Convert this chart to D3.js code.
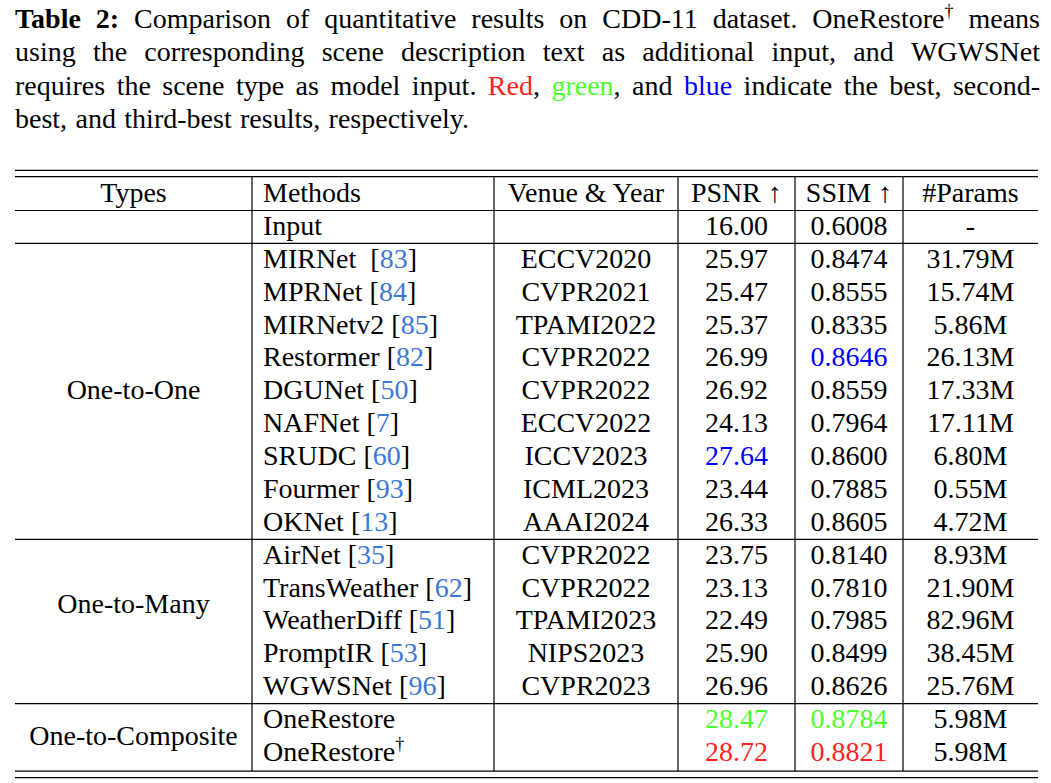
<!DOCTYPE html>
<html>
<head>
<meta charset="utf-8">
<script src="https://cdn.jsdelivr.net/npm/d3@7"></script>
<style>
  body { margin: 0; background: #fff; }
  svg { display: block; }
  text { font-family: "Liberation Serif", "Times New Roman", serif; }
</style>
</head>
<body>
<svg id="chart" width="1051" height="783"></svg>
<script>
// caption, one string per printed line (**bold**, ^sup, {r}/{g}/{u} colour)
const captionLines = [
  "**Table** **2:** Comparison of quantitative results on CDD-11 dataset. OneRestore^† means",
  "using the corresponding scene description text as additional input, and WGWSNet",
  "requires the scene type as model input. {r}Red, {g}green, and {u}blue indicate the best, second-",
  "best, and third-best results, respectively."
];

const headers = ["Types", "Methods", "Venue & Year", "PSNR ↑", "SSIM ↑", "#Params"];
const groups = ["", "One-to-One", "One-to-Many", "One-to-Composite"];
const groupSizes = [1, 9, 5, 2];
const groupLabelSpan = [1, 9, 4, 2];

const methods = ["Input", "MIRNet\u00a0", "MPRNet", "MIRNetv2", "Restormer", "DGUNet", "NAFNet", "SRUDC",
  "Fourmer", "OKNet", "AirNet", "TransWeather", "WeatherDiff", "PromptIR", "WGWSNet", "OneRestore", "OneRestore†"];
const cites = ["", "83", "84", "85", "82", "50", "7", "60", "93", "13", "35", "62", "51", "53", "96", "", ""];
const venues = ["", "ECCV2020", "CVPR2021", "TPAMI2022", "CVPR2022", "CVPR2022", "ECCV2022", "ICCV2023",
  "ICML2023", "AAAI2024", "CVPR2022", "CVPR2022", "TPAMI2023", "NIPS2023", "CVPR2023", "", ""];
const psnr = [16.00, 25.97, 25.47, 25.37, 26.99, 26.92, 24.13, 27.64, 23.44, 26.33, 23.75, 23.13, 22.49, 25.90, 26.96, 28.47, 28.72];
const ssim = [0.6008, 0.8474, 0.8555, 0.8335, 0.8646, 0.8559, 0.7964, 0.8600, 0.7885, 0.8605, 0.8140, 0.7810, 0.7985, 0.8499, 0.8626, 0.8784, 0.8821];
const params = ["-", "31.79M", "15.74M", "5.86M", "26.13M", "17.33M", "17.11M", "6.80M", "0.55M", "4.72M",
  "8.93M", "21.90M", "82.96M", "38.45M", "25.76M", "5.98M", "5.98M"];

const rankColors = ["#ff1f1f", "#4dff2e", "#0000ff"];
const citeColor = "#3d78d8";
const fs = 28;

const svg = d3.select("#chart");

// ---------- caption ----------
const capLeft = 15, capRight = 1040;
const capBase = [27.5, 61, 94.5, 128];
const cap = svg.append("g").attr("font-size", fs).attr("fill", "#000");

function drawWord(t, wd) {
  let bold = false, color = null;
  if (wd.startsWith("**")) { bold = true; wd = wd.replace(/\*\*/g, ""); }
  const m = wd.match(/^\{(r|g|u)\}/);
  if (m) { color = {r: rankColors[0], g: rankColors[1], u: rankColors[2]}[m[1]]; wd = wd.slice(3); }
  if (wd.includes("^")) {
    const [base, sup] = wd.split("^");
    t.append("tspan").text(base);
    t.append("tspan").attr("font-size", 18).attr("dy", -11).text(sup);
    return;
  }
  if (color) {
    const mm = wd.match(/^([A-Za-z]+)(.*)$/);
    t.append("tspan").attr("fill", color).text(mm[1]);
    if (mm[2]) t.append("tspan").text(mm[2]);
    return;
  }
  t.append("tspan").attr("font-weight", bold ? "bold" : null).text(wd);
}

captionLines.forEach((line, li) => {
  const words = line.split(" ");
  const nodes = words.map(wd => {
    const t = cap.append("text").attr("y", capBase[li]);
    drawWord(t, wd);
    return t;
  });
  const widths = nodes.map(n => n.node().getComputedTextLength());
  const total = d3.sum(widths);
  const last = li === captionLines.length - 1;
  const gap = last ? fs * 0.3 : (capRight - capLeft - total) / (words.length - 1);
  let cx = capLeft;
  nodes.forEach((n, i) => { n.attr("x", cx); cx += widths[i] + gap; });
});

// ---------- table ----------
const x = d3.scaleLinear().domain([0, 1, 2, 3, 4, 5, 6]).range([15, 252, 494, 678, 795, 903, 1038]);
const y = d3.scaleBand().domain(d3.range(methods.length + 1)).range([176.6, 176.6 + 32.88 * (methods.length + 1)]);
const mid = c => (x(c) + x(c + 1)) / 2;
const base = r => y(r) + y.bandwidth() / 2 + 9;
const tableTop = y(0), tableBottom = y.range()[1] + 2.6;

const g = svg.append("g").attr("font-size", fs).attr("fill", "#000");

// rules
const hl = [tableTop - 6.3, tableTop, tableBottom, tableBottom + 6.6];
let acc = 1;
hl.push(y(1) + 1);
groupSizes.slice(0, -1).forEach(s => { acc += s; hl.push(y(acc) + 1); });
g.selectAll("line.h").data(hl).join("line").attr("class", "h")
  .attr("x1", x(0)).attr("x2", x(6)).attr("y1", d => d).attr("y2", d => d)
  .attr("stroke", "#000").attr("stroke-width", 1.2);
g.selectAll("line.v").data([1, 2, 3, 4, 5]).join("line").attr("class", "v")
  .attr("x1", d => x(d)).attr("x2", d => x(d)).attr("y1", tableTop).attr("y2", tableBottom)
  .attr("stroke", "#000").attr("stroke-width", 1.2);

// header
g.selectAll("text.hd").data(headers).join("text").attr("class", "hd")
  .attr("x", (d, i) => i === 1 ? x(1) + 11 : mid(i))
  .attr("text-anchor", (d, i) => i === 1 ? "start" : "middle")
  .attr("y", base(0)).text(d => d);

// group labels
let start = 1;
groups.forEach((name, i) => {
  const c = y(start) + groupLabelSpan[i] * y.bandwidth() / 2 + 9;
  g.append("text").attr("x", mid(0)).attr("y", c).attr("text-anchor", "middle").text(name);
  start += groupSizes[i];
});

// ranks among methods (input row excluded)
function rankOf(vals) {
  const sorted = vals.slice(1).sort((a, b) => b - a);
  return vals.map((v, i) => i === 0 ? -1 : sorted.indexOf(v));
}
const psnrRank = rankOf(psnr), ssimRank = rankOf(ssim);
const f2 = d3.format(".2f"), f4 = d3.format(".4f");
const rankFill = k => k >= 0 && k < 3 ? rankColors[k] : "#000";

methods.forEach((m, i) => {
  const r = i + 1;
  const t = g.append("text").attr("x", x(1) + 11).attr("y", base(r));
  if (m.endsWith("†")) {
    t.append("tspan").text(m.slice(0, -1));
    t.append("tspan").attr("font-size", 18).attr("dy", -11).text("†");
  } else {
    t.append("tspan").text(m);
  }
  if (cites[i]) {
    t.append("tspan").text(" [");
    t.append("tspan").attr("fill", citeColor).text(cites[i]);
    t.append("tspan").text("]");
  }
  if (venues[i]) g.append("text").attr("x", mid(2)).attr("y", base(r)).attr("text-anchor", "middle").text(venues[i]);
  g.append("text").attr("x", mid(3)).attr("y", base(r)).attr("text-anchor", "middle")
    .attr("fill", rankFill(psnrRank[i])).text(f2(psnr[i]));
  g.append("text").attr("x", mid(4)).attr("y", base(r)).attr("text-anchor", "middle")
    .attr("fill", rankFill(ssimRank[i])).text(f4(ssim[i]));
  g.append("text").attr("x", mid(5)).attr("y", base(r)).attr("text-anchor", "middle").text(params[i]);
});
</script>
</body>
</html>
